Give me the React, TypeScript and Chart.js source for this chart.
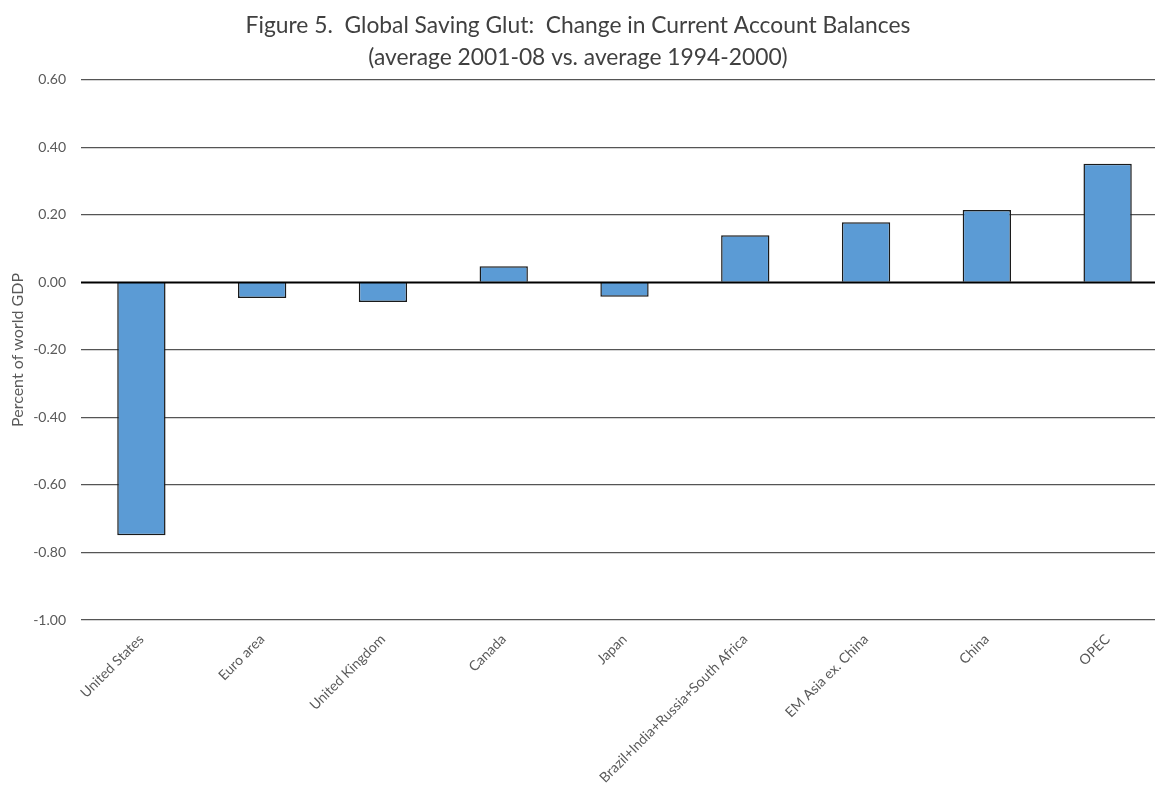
import React, { useEffect, useRef } from "react";
import { Chart, registerables } from "chart.js";

Chart.register(...registerables);

const categories = [
  "United States",
  "Euro area",
  "United Kingdom",
  "Canada",
  "Japan",
  "Brazil+India+Russia+South Africa",
  "EM Asia ex. China",
  "China",
  "OPEC",
];
const values = [-0.749, -0.046, -0.058, 0.048, -0.042, 0.14, 0.178, 0.215, 0.352];
const titleLines = [
  "Figure 5.  Global Saving Glut:  Change in Current Account Balances",
  "(average 2001-08 vs. average 1994-2000)",
];
const yAxisTitle = "Percent of world GDP";
const yMin = -1.0;
const yMax = 0.6;
const yStep = 0.2;

const FONT = "Lato, 'Open Sans', sans-serif";

const zeroLinePlugin = {
  id: "zeroLine",
  afterLayout(chart: any) {
    const t = chart.titleBlock;
    if (t) {
      t.left -= 12;
    }
  },
  afterDatasetsDraw(chart: any) {
    const y = chart.scales.y;
    const area = chart.chartArea;
    const py = y.getPixelForValue(0);
    const ctx = chart.ctx;
    ctx.save();
    ctx.strokeStyle = "#000000";
    ctx.lineWidth = 2;
    ctx.beginPath();
    ctx.moveTo(area.left, py);
    ctx.lineTo(area.right, py);
    ctx.stroke();
    ctx.restore();
  },
};

export default function App() {
  const ref = useRef<HTMLCanvasElement | null>(null);
  useEffect(() => {
    if (!ref.current) return;
    const chart = new Chart(ref.current, {
      type: "bar",
      data: {
        labels: categories,
        datasets: [
          {
            data: values,
            backgroundColor: "#5B9BD5",
            borderColor: "#1a1a1a",
            borderWidth: 1.5,
            borderSkipped: "start",
            categoryPercentage: 1,
            barPercentage: 0.4,
          },
        ],
      },
      plugins: [zeroLinePlugin],
      options: {
        responsive: false,
        animation: false,
        layout: { padding: 0 },
        plugins: {
          legend: { display: false },
          tooltip: { enabled: false },
          title: {
            display: true,
            text: titleLines,
            color: "#404040",
            font: { family: FONT, size: 22.8, weight: "normal", lineHeight: 1.38 },
            padding: { top: 10, bottom: 7 },
          },
        },
        scales: {
          x: {
            grid: { display: false },
            border: { display: false },
            ticks: {
              color: "#595959",
              font: { family: FONT, size: 14 },
              maxRotation: 45,
              minRotation: 45,
              autoSkip: false,
              padding: 3,
            },
            afterFit: (s: any) => {
              s.height = 170;
            },
          },
          y: {
            min: yMin,
            max: yMax,
            border: { display: false },
            grid: {
              drawTicks: false,
              color: (c: any) => (c.tick && Math.abs(c.tick.value) < 1e-9 ? "rgba(0,0,0,0)" : "#555555"),
              lineWidth: 1.3,
            },
            ticks: {
              stepSize: yStep,
              color: "#595959",
              font: { family: FONT, size: 14 },
              padding: 15,
              callback: (v: any) => Number(v).toFixed(2),
            },
            title: {
              display: true,
              text: yAxisTitle,
              color: "#595959",
              font: { family: FONT, size: 16 },
              padding: { top: 8, bottom: 0 },
            },
            afterFit: (s: any) => {
              s.width = 81;
            },
          },
        },
      },
    });
    return () => chart.destroy();
  }, []);
  return (
    <div
      style={{
        position: "fixed",
        left: 0,
        top: 0,
        width: 1155,
        height: 790,
        overflow: "hidden",
        background: "#ffffff",
      }}
    >
      <canvas ref={ref} width={1168} height={790} style={{ display: "block" }} />
    </div>
  );
}
